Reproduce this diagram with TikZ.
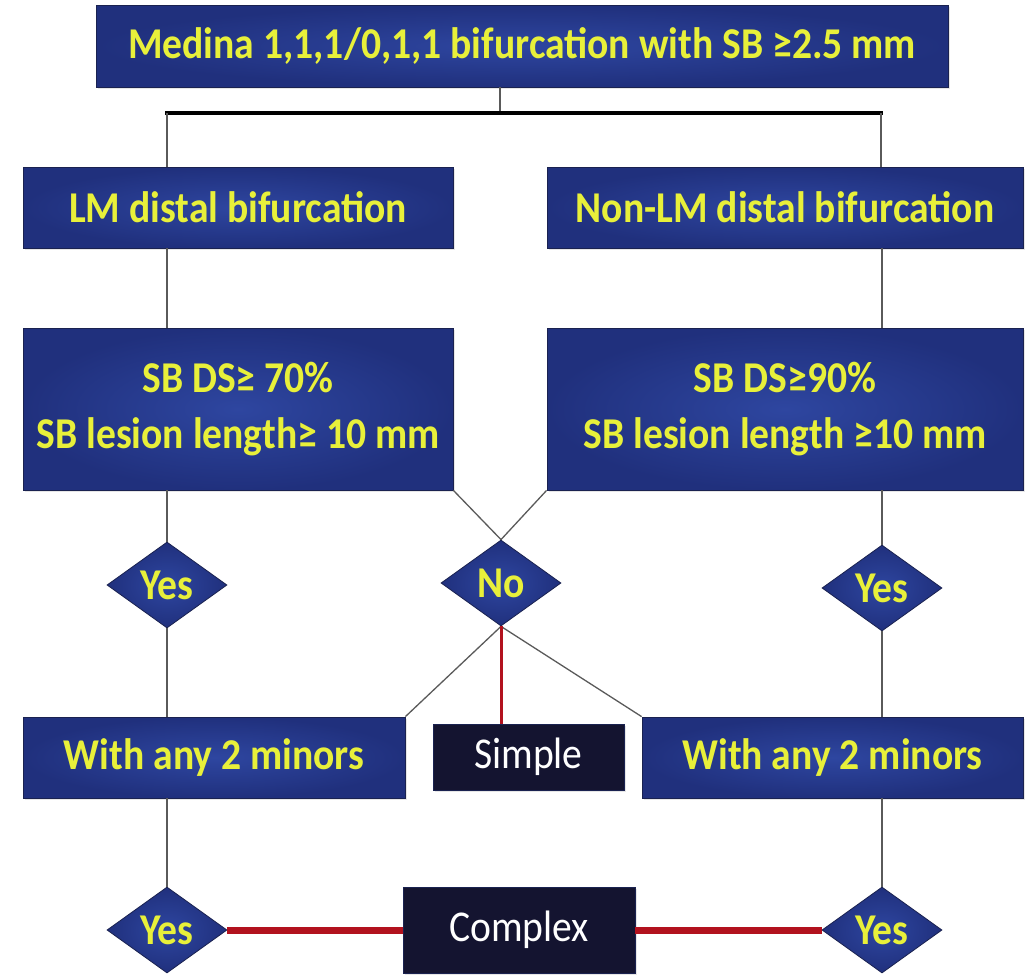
\documentclass[tikz,border=0pt]{standalone}
\usepackage{fontspec}
\setmainfont{Carlito}
\usetikzlibrary{shapes.geometric,shadows}
\definecolor{boxin}{RGB}{46,70,160}
\definecolor{boxout}{RGB}{32,48,125}
\definecolor{boxedge}{RGB}{26,34,80}
\definecolor{txtyellow}{RGB}{232,240,58}
\definecolor{darkbox}{RGB}{20,20,48}
\definecolor{linegray}{RGB}{90,90,90}
\definecolor{redline}{RGB}{178,18,30}
\newcommand\sx[1]{\scalebox{0.9}[1]{#1}}
\tikzset{
  x=1pt, y=-1pt,
  bluebox/.style={rectangle, draw=boxedge, line width=0.8pt, inner color=boxin, outer color=boxout,
    inner sep=0pt, text=txtyellow, align=center,
    font=\fontsize{44}{56}\selectfont\bfseries,
    drop shadow={opacity=0.2, shadow xshift=2pt, shadow yshift=-2pt}},
  darkbox/.style={rectangle, draw=boxedge, line width=0.8pt, fill=darkbox, inner sep=0pt,
    text=white, font=\fontsize{44}{56}\selectfont,
    drop shadow={opacity=0.2, shadow xshift=2pt, shadow yshift=-2pt}},
  decision/.style={diamond, draw=boxedge, line width=0.8pt, inner color=boxin, outer color=boxout,
    inner sep=0pt, aspect=1.4, minimum width=120pt, minimum height=86pt, text=txtyellow,
    font=\fontsize{44}{56}\selectfont\bfseries},
  conn/.style={draw=linegray, line width=1.3pt},
  bar/.style={draw=black, line width=4pt},
  redconn/.style={draw=redline, line width=3pt},
  redthick/.style={draw=redline, line width=7pt}
}
\begin{document}
\begin{tikzpicture}
\useasboundingbox (0,0) rectangle (1026,980);

% boxes
\node[bluebox, minimum width=852pt, minimum height=82pt] (top) at (522,46)
  {\sx{Medina 1,1,1/0,1,1 bifurcation with SB ≥2.5 mm}};
\node[bluebox, minimum width=430pt, minimum height=81pt] (lm) at (238,207.5)
  {\sx{LM distal bifurcation}};
\node[bluebox, minimum width=476pt, minimum height=81pt] (nlm) at (785,207.5)
  {\sx{Non-LM distal bifurcation}};
\node[bluebox, minimum width=430pt, minimum height=162pt] (lmc) at (238,409)
  {\sx{SB DS≥ 70\%}\\\sx{SB lesion length≥ 10 mm}};
\node[bluebox, minimum width=476pt, minimum height=162pt] (nlmc) at (785,409)
  {\sx{SB DS≥90\%}\\\sx{SB lesion length ≥10 mm}};

\node[decision] (yes1) at (167,585) {\sx{Yes}};
\node[decision] (no) at (501,583) {\sx{No}};
\node[decision] (yes2) at (882,588) {\sx{Yes}};

\node[bluebox, minimum width=382pt, minimum height=81pt] (min1) at (214,757.5)
  {\sx{With any 2 minors}};
\node[darkbox, minimum width=191pt, minimum height=66pt] (simple) at (528.5,757)
  {\sx{Simple}};
\node[bluebox, minimum width=381pt, minimum height=81pt] (min2) at (832.5,757.5)
  {\sx{With any 2 minors}};

\node[decision] (yes3) at (167,930) {\sx{Yes}};
\node[darkbox, minimum width=232pt, minimum height=86pt] (complex) at (519,930)
  {\sx{Complex}};
\node[decision] (yes4) at (882,930) {\sx{Yes}};

% top split
\coordinate (barL) at (167,113);
\coordinate (barR) at (881,113);
\coordinate (barM) at (500,113);
\draw[conn] (top.south -| barM) -- (barM);
\draw[bar, line cap=rect] (barL) -- (barR);
\draw[conn] (barL) -- (lm.north -| barL);
\draw[conn] (barR) -- (nlm.north -| barR);

% left column
\draw[conn] (lm.south -| yes1) -- (lmc.north -| yes1);
\draw[conn] (lmc.south -| yes1) -- (yes1.north);
\draw[conn] (yes1.south) -- (min1.north -| yes1);
\draw[conn] (min1.south -| yes1) -- (yes3.north);

% right column
\draw[conn] (nlm.south -| yes2) -- (nlmc.north -| yes2);
\draw[conn] (nlmc.south -| yes2) -- (yes2.north);
\draw[conn] (yes2.south) -- (min2.north -| yes2);
\draw[conn] (min2.south -| yes2) -- (yes4.north);

% crossing to No
\draw[conn] (lmc.south east) -- (no.north);
\draw[conn] (nlmc.south west) -- (no.north);
\draw[conn] (no.south) -- (min1.north east);
\draw[conn] (no.south) -- (min2.north west);
\draw[redconn] (no.south) -- (no.south |- simple.north);

% complex
\draw[redthick] (yes3.east) -- (complex.west);
\draw[redthick] (complex.east) -- (yes4.west);
\end{tikzpicture}
\end{document}
